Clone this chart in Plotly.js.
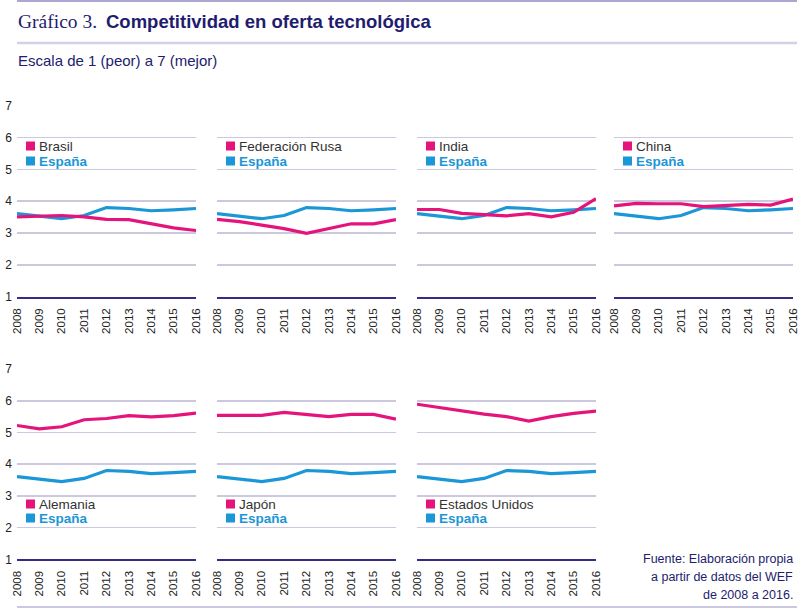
<!DOCTYPE html>
<html>
<head>
<meta charset="utf-8">
<script src="https://cdn.plot.ly/plotly-3.0.1.min.js"></script>
<style>html,body{margin:0;padding:0;background:#fff;}#chart{width:800px;height:610px;}</style>
</head>
<body>
<div id="chart"></div>
<script>
// ---- data ----
var years = [2008, 2009, 2010, 2011, 2012, 2013, 2014, 2015, 2016];
var yearLabels = ["2008","2009","2010","2011","2012","2013","2014","2015","2016"];
var countries = ["Brasil", "Federación Rusa", "India", "China", "Alemania", "Japón", "Estados Unidos"];
var espana   = [3.61, 3.54, 3.45, 3.55, 3.80, 3.77, 3.70, 3.73, 3.77];
var brasil   = [3.51, 3.53, 3.55, 3.51, 3.43, 3.42, 3.30, 3.16, 3.08];
var rusia    = [3.43, 3.36, 3.25, 3.14, 2.99, 3.13, 3.29, 3.29, 3.42];
var india    = [3.74, 3.74, 3.62, 3.57, 3.54, 3.61, 3.51, 3.65, 4.08];
var china    = [3.85, 3.93, 3.92, 3.92, 3.83, 3.87, 3.90, 3.88, 4.07];
var alemania = [5.22, 5.11, 5.18, 5.40, 5.44, 5.53, 5.49, 5.53, 5.61];
var japon    = [5.54, 5.53, 5.54, 5.63, 5.57, 5.50, 5.57, 5.57, 5.42];
var eeuu     = [5.89, 5.79, 5.67, 5.58, 5.50, 5.36, 5.50, 5.60, 5.67];
var countryValues = [brasil, rusia, india, china, alemania, japon, eeuu];
var yTicks = [1, 2, 3, 4, 5, 6, 7];
var espanaLabel = "España";
var titleNum = "Gráfico 3.";
var titleText = "Competitividad en oferta tecnológica";
var subtitle = "Escala de 1 (peor) a 7 (mejor)";
var sourceLines = ["Fuente: Elaboración propia", "a partir de datos del WEF", "de 2008 a 2016."];

// ---- layout helpers ----
var W = 800, H = 610;
function px(x){ return x / W; }
function py(y){ return 1 - y / H; }
var PINK = "#e5147b", BLUE = "#1b96d6", NAVY = "#221c6e", BASE = "#372b8a", GRID = "#cbc8df";
var FONT = "Liberation Sans, Arial, sans-serif";

var panelX0 = [17, 217, 417, 614, 17, 217, 417];
var panelW = 179;
var rowTop = [105.7, 369];
var rowBot = [296.7, 559.3];
var legendY = [[146, 161], [504, 518]];

var data = [];
var layout = {
  width: W, height: H,
  margin: {l: 0, r: 0, t: 0, b: 0},
  paper_bgcolor: "#fff", plot_bgcolor: "rgba(0,0,0,0)",
  showlegend: false,
  font: {family: FONT, color: "#222"},
  annotations: [], shapes: []
};

for (var i = 0; i < countries.length; i++) {
  var row = i < 4 ? 0 : 1;
  var suffix = i === 0 ? "" : String(i + 1);
  var xa = "x" + suffix, ya = "y" + suffix;
  var x0 = panelX0[i];
  layout["xaxis" + suffix] = {
    domain: [px(x0), px(x0 + panelW)],
    anchor: ya,
    range: [years[0], years[years.length - 1]],
    tickmode: "array", tickvals: years, ticktext: yearLabels,
    tickangle: -90,
    tickfont: {size: 11.5, color: "#222", family: FONT},
    ticklabelstandoff: 5,
    ticklabeloverflow: "allow",
    showgrid: false, zeroline: false,
    showline: true, linecolor: BASE, linewidth: 2,
    ticks: "", fixedrange: true
  };
  layout["yaxis" + suffix] = {
    domain: [py(rowBot[row]), py(rowTop[row])],
    anchor: xa,
    range: [1, 7],
    tickmode: "array", tickvals: yTicks,
    showticklabels: (i === 0 || i === 4),
    tickfont: {size: 12, color: "#222", family: FONT},
    ticklabelstandoff: 4,
    ticklabeloverflow: "allow",
    showgrid: true, gridcolor: GRID, gridwidth: 1.6,
    zeroline: false, showline: false, ticks: "", fixedrange: true
  };
  data.push({
    x: years, y: espana, xaxis: xa, yaxis: ya, type: "scatter", mode: "lines",
    line: {color: BLUE, width: 3.2}, name: espanaLabel, hoverinfo: "skip"
  });
  data.push({
    x: years, y: countryValues[i], xaxis: xa, yaxis: ya, type: "scatter", mode: "lines",
    line: {color: PINK, width: 3.2}, name: countries[i], hoverinfo: "skip"
  });

  // legend squares + labels
  var ly = legendY[row];
  var sq = 9;
  [[PINK, ly[0]], [BLUE, ly[1]]].forEach(function(p){
    layout.shapes.push({
      type: "rect", xref: "paper", yref: "paper",
      x0: px(x0 + 9), x1: px(x0 + 9 + sq),
      y0: py(p[1] + sq / 2), y1: py(p[1] - sq / 2),
      fillcolor: p[0], line: {width: 0}
    });
  });
  layout.annotations.push({
    xref: "paper", yref: "paper", x: px(x0 + 20), y: py(ly[0]),
    xanchor: "left", yanchor: "middle", showarrow: false,
    text: countries[i], font: {size: 13.5, color: "#333", family: FONT}
  });
  layout.annotations.push({
    xref: "paper", yref: "paper", x: px(x0 + 20), y: py(ly[1]),
    xanchor: "left", yanchor: "middle", showarrow: false,
    text: "<b>" + espanaLabel + "</b>", font: {size: 13.5, color: BLUE, family: FONT}
  });
}

// titles
layout.annotations.push({
  xref: "paper", yref: "paper", x: px(16), y: py(22),
  xanchor: "left", yanchor: "middle", showarrow: false,
  text: titleNum, font: {size: 19.5, color: NAVY, family: "Liberation Serif, Times New Roman, serif"}
});
layout.annotations.push({
  xref: "paper", yref: "paper", x: px(104), y: py(22),
  xanchor: "left", yanchor: "middle", showarrow: false,
  text: "<b>" + titleText + "</b>", font: {size: 18.5, color: NAVY, family: FONT}
});
layout.annotations.push({
  xref: "paper", yref: "paper", x: px(16), y: py(61),
  xanchor: "left", yanchor: "middle", showarrow: false,
  text: subtitle, font: {size: 15, color: NAVY, family: FONT}
});
// source
sourceLines.forEach(function(t, k){
  layout.annotations.push({
    xref: "paper", yref: "paper", x: px(795), y: py(559 + 18 * k),
    xanchor: "right", yanchor: "middle", showarrow: false,
    text: t, font: {size: 12.5, color: NAVY, family: FONT}
  });
});
// rules
layout.shapes.push({type: "line", xref: "paper", yref: "paper", x0: px(17), x1: px(797), y0: py(1), y1: py(1), line: {color: "#aba7d3", width: 2}});
layout.shapes.push({type: "line", xref: "paper", yref: "paper", x0: px(17), x1: px(797), y0: py(43), y1: py(43), line: {color: "#d3d1e3", width: 2.5}});
layout.shapes.push({type: "line", xref: "paper", yref: "paper", x0: px(17), x1: px(797), y0: py(607), y1: py(607), line: {color: "#cbc8e2", width: 2}});

Plotly.newPlot("chart", data, layout, {displayModeBar: false, staticPlot: true});
</script>
</body>
</html>
